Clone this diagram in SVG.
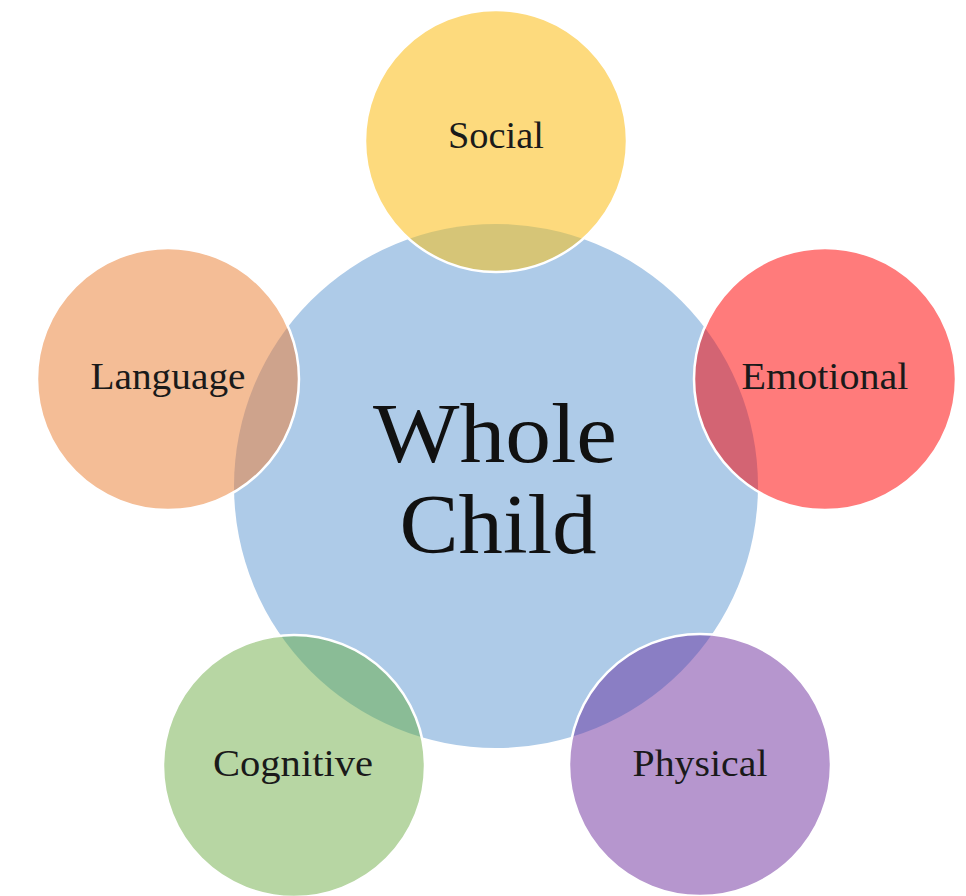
<svg xmlns="http://www.w3.org/2000/svg" width="966" height="896" viewBox="0 0 966 896">
<style>
.lbl{font-family:"Liberation Serif","DejaVu Serif",serif;font-size:37px;fill:#1a1a1a;text-anchor:middle}
.big{font-family:"Liberation Serif","DejaVu Serif",serif;font-size:84px;fill:#111;text-anchor:middle}
.ring{fill:none;stroke:#fff;stroke-width:2.5}
</style>
<defs>
<clipPath id="hub"><circle cx="496" cy="486" r="262"/></clipPath>
</defs>
<rect width="966" height="896" fill="#fff"/>
<g id="node-whole-child">
<circle cx="496" cy="486" r="262" fill="#AECBE8"/>
</g>
<g id="node-social">
<circle cx="496" cy="141" r="131" fill="#FDDA7D"/>
<circle cx="496" cy="141" r="131" fill="#D6C577" clip-path="url(#hub)"/>
<circle cx="496" cy="141" r="131" class="ring"/>
<text x="496" y="148" class="lbl" textLength="96" lengthAdjust="spacingAndGlyphs">Social</text>
</g>
<g id="node-emotional">
<circle cx="825" cy="379" r="131" fill="#FF7B7B"/>
<circle cx="825" cy="379" r="131" fill="#D36473" clip-path="url(#hub)"/>
<circle cx="825" cy="379" r="131" class="ring"/>
<text x="825" y="389" class="lbl" textLength="167" lengthAdjust="spacingAndGlyphs">Emotional</text>
</g>
<g id="node-language">
<circle cx="168" cy="379" r="131" fill="#F4BD96"/>
<circle cx="168" cy="379" r="131" fill="#CEA38C" clip-path="url(#hub)"/>
<circle cx="168" cy="379" r="131" class="ring"/>
<text x="168" y="389" class="lbl" textLength="155" lengthAdjust="spacingAndGlyphs">Language</text>
</g>
<g id="node-cognitive">
<circle cx="294" cy="766" r="131" fill="#B7D6A3"/>
<circle cx="294" cy="766" r="131" fill="#8ABC96" clip-path="url(#hub)"/>
<circle cx="294" cy="766" r="131" class="ring"/>
<text x="293" y="776" class="lbl" textLength="160" lengthAdjust="spacingAndGlyphs">Cognitive</text>
</g>
<g id="node-physical">
<circle cx="700" cy="765" r="131" fill="#B696CE"/>
<circle cx="700" cy="765" r="131" fill="#8A7EC4" clip-path="url(#hub)"/>
<circle cx="700" cy="765" r="131" class="ring"/>
<text x="700" y="776" class="lbl" textLength="135" lengthAdjust="spacingAndGlyphs">Physical</text>
</g>
<g id="hub-label">
<text x="495" y="462" class="big" textLength="244" lengthAdjust="spacingAndGlyphs">Whole</text>
<text x="498" y="553" class="big" textLength="197" lengthAdjust="spacingAndGlyphs">Child</text>
</g>
<g id="connectors"></g>
</svg>
